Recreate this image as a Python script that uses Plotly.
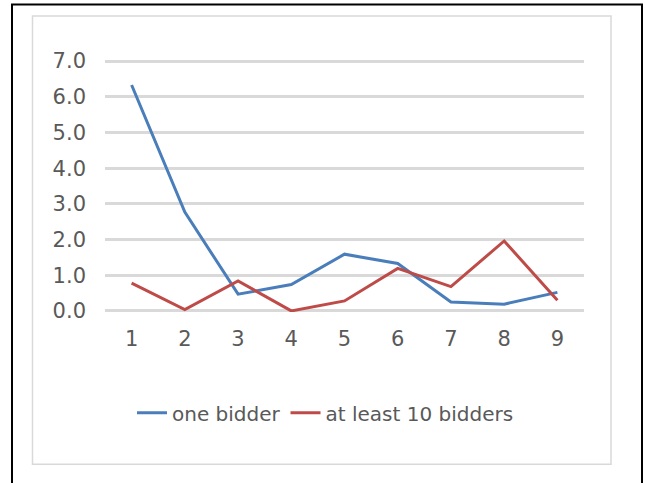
import plotly.graph_objects as go

categories = ["1", "2", "3", "4", "5", "6", "7", "8", "9"]
one_bidder = [6.33, 2.77, 0.47, 0.74, 1.59, 1.33, 0.25, 0.19, 0.52]
ten_bidders = [0.78, 0.04, 0.84, 0.0, 0.28, 1.19, 0.68, 1.96, 0.30]
y_ticks = [0, 1, 2, 3, 4, 5, 6, 7]

W, H = 645, 483
Y_PAD = 0.03
UNIT = 35.7
L, R = 105, 61
T = 60.7 - Y_PAD * UNIT
B = H - (310.7 + Y_PAD * UNIT)
PW, PH = W - L - R, H - T - B


def px_x(x):
    # screen pixel -> paper coordinate
    return (x - L) / PW


def px_y(y):
    return (H - B - y) / PH


TEXT = "#595959"
GRID = "#d9d9d9"

fig = go.Figure()
fig.add_trace(
    go.Scatter(
        x=categories,
        y=one_bidder,
        mode="lines",
        line=dict(color="#4a7ebb", width=3),
        name="one bidder",
    )
)
fig.add_trace(
    go.Scatter(
        x=categories,
        y=ten_bidders,
        mode="lines",
        line=dict(color="#be4b48", width=3),
        name="at least 10 bidders",
    )
)

# outer black frame (open at the bottom) and inner light chart-area frame
fig.add_shape(
    type="rect", xref="paper", yref="paper",
    x0=px_x(12), x1=px_x(642), y0=px_y(520), y1=px_y(4),
    line=dict(color="black", width=2), layer="below",
)
fig.add_shape(
    type="rect", xref="paper", yref="paper",
    x0=px_x(32.5), x1=px_x(611), y0=px_y(464), y1=px_y(15.5),
    line=dict(color=GRID, width=1.5), layer="below",
)

fig.update_layout(
    width=W,
    height=H,
    margin=dict(l=L, r=R, t=T, b=B),
    plot_bgcolor="white",
    paper_bgcolor="white",
    font=dict(family="DejaVu Sans", size=20, color=TEXT),
    showlegend=True,
    legend=dict(
        orientation="h",
        x=px_x(325.5),
        xanchor="center",
        y=px_y(412.7),
        yanchor="middle",
        font=dict(size=20, color=TEXT),
        tracegroupgap=0,
    ),
    xaxis=dict(
        type="category",
        range=[-0.5, 8.5],
        showgrid=False,
        showline=False,
        zeroline=False,
        ticks="",
        ticklabelstandoff=12,
        tickfont=dict(size=21, color=TEXT),
    ),
    yaxis=dict(
        range=[-Y_PAD, 7 + Y_PAD],
        tickvals=y_ticks,
        ticktext=[f"{v:.1f}" for v in y_ticks],
        showgrid=True,
        gridcolor=GRID,
        gridwidth=2.5,
        zeroline=False,
        showline=False,
        ticks="",
        ticklabelstandoff=18,
        tickfont=dict(size=21, color=TEXT),
    ),
)

# drop the default page margin so the figure sits at the window origin
fig.write_html(
    "out.html",
    config={"displayModeBar": False},
    post_script="document.body.style.margin = '0'; document.body.style.overflow = 'hidden';",
)
